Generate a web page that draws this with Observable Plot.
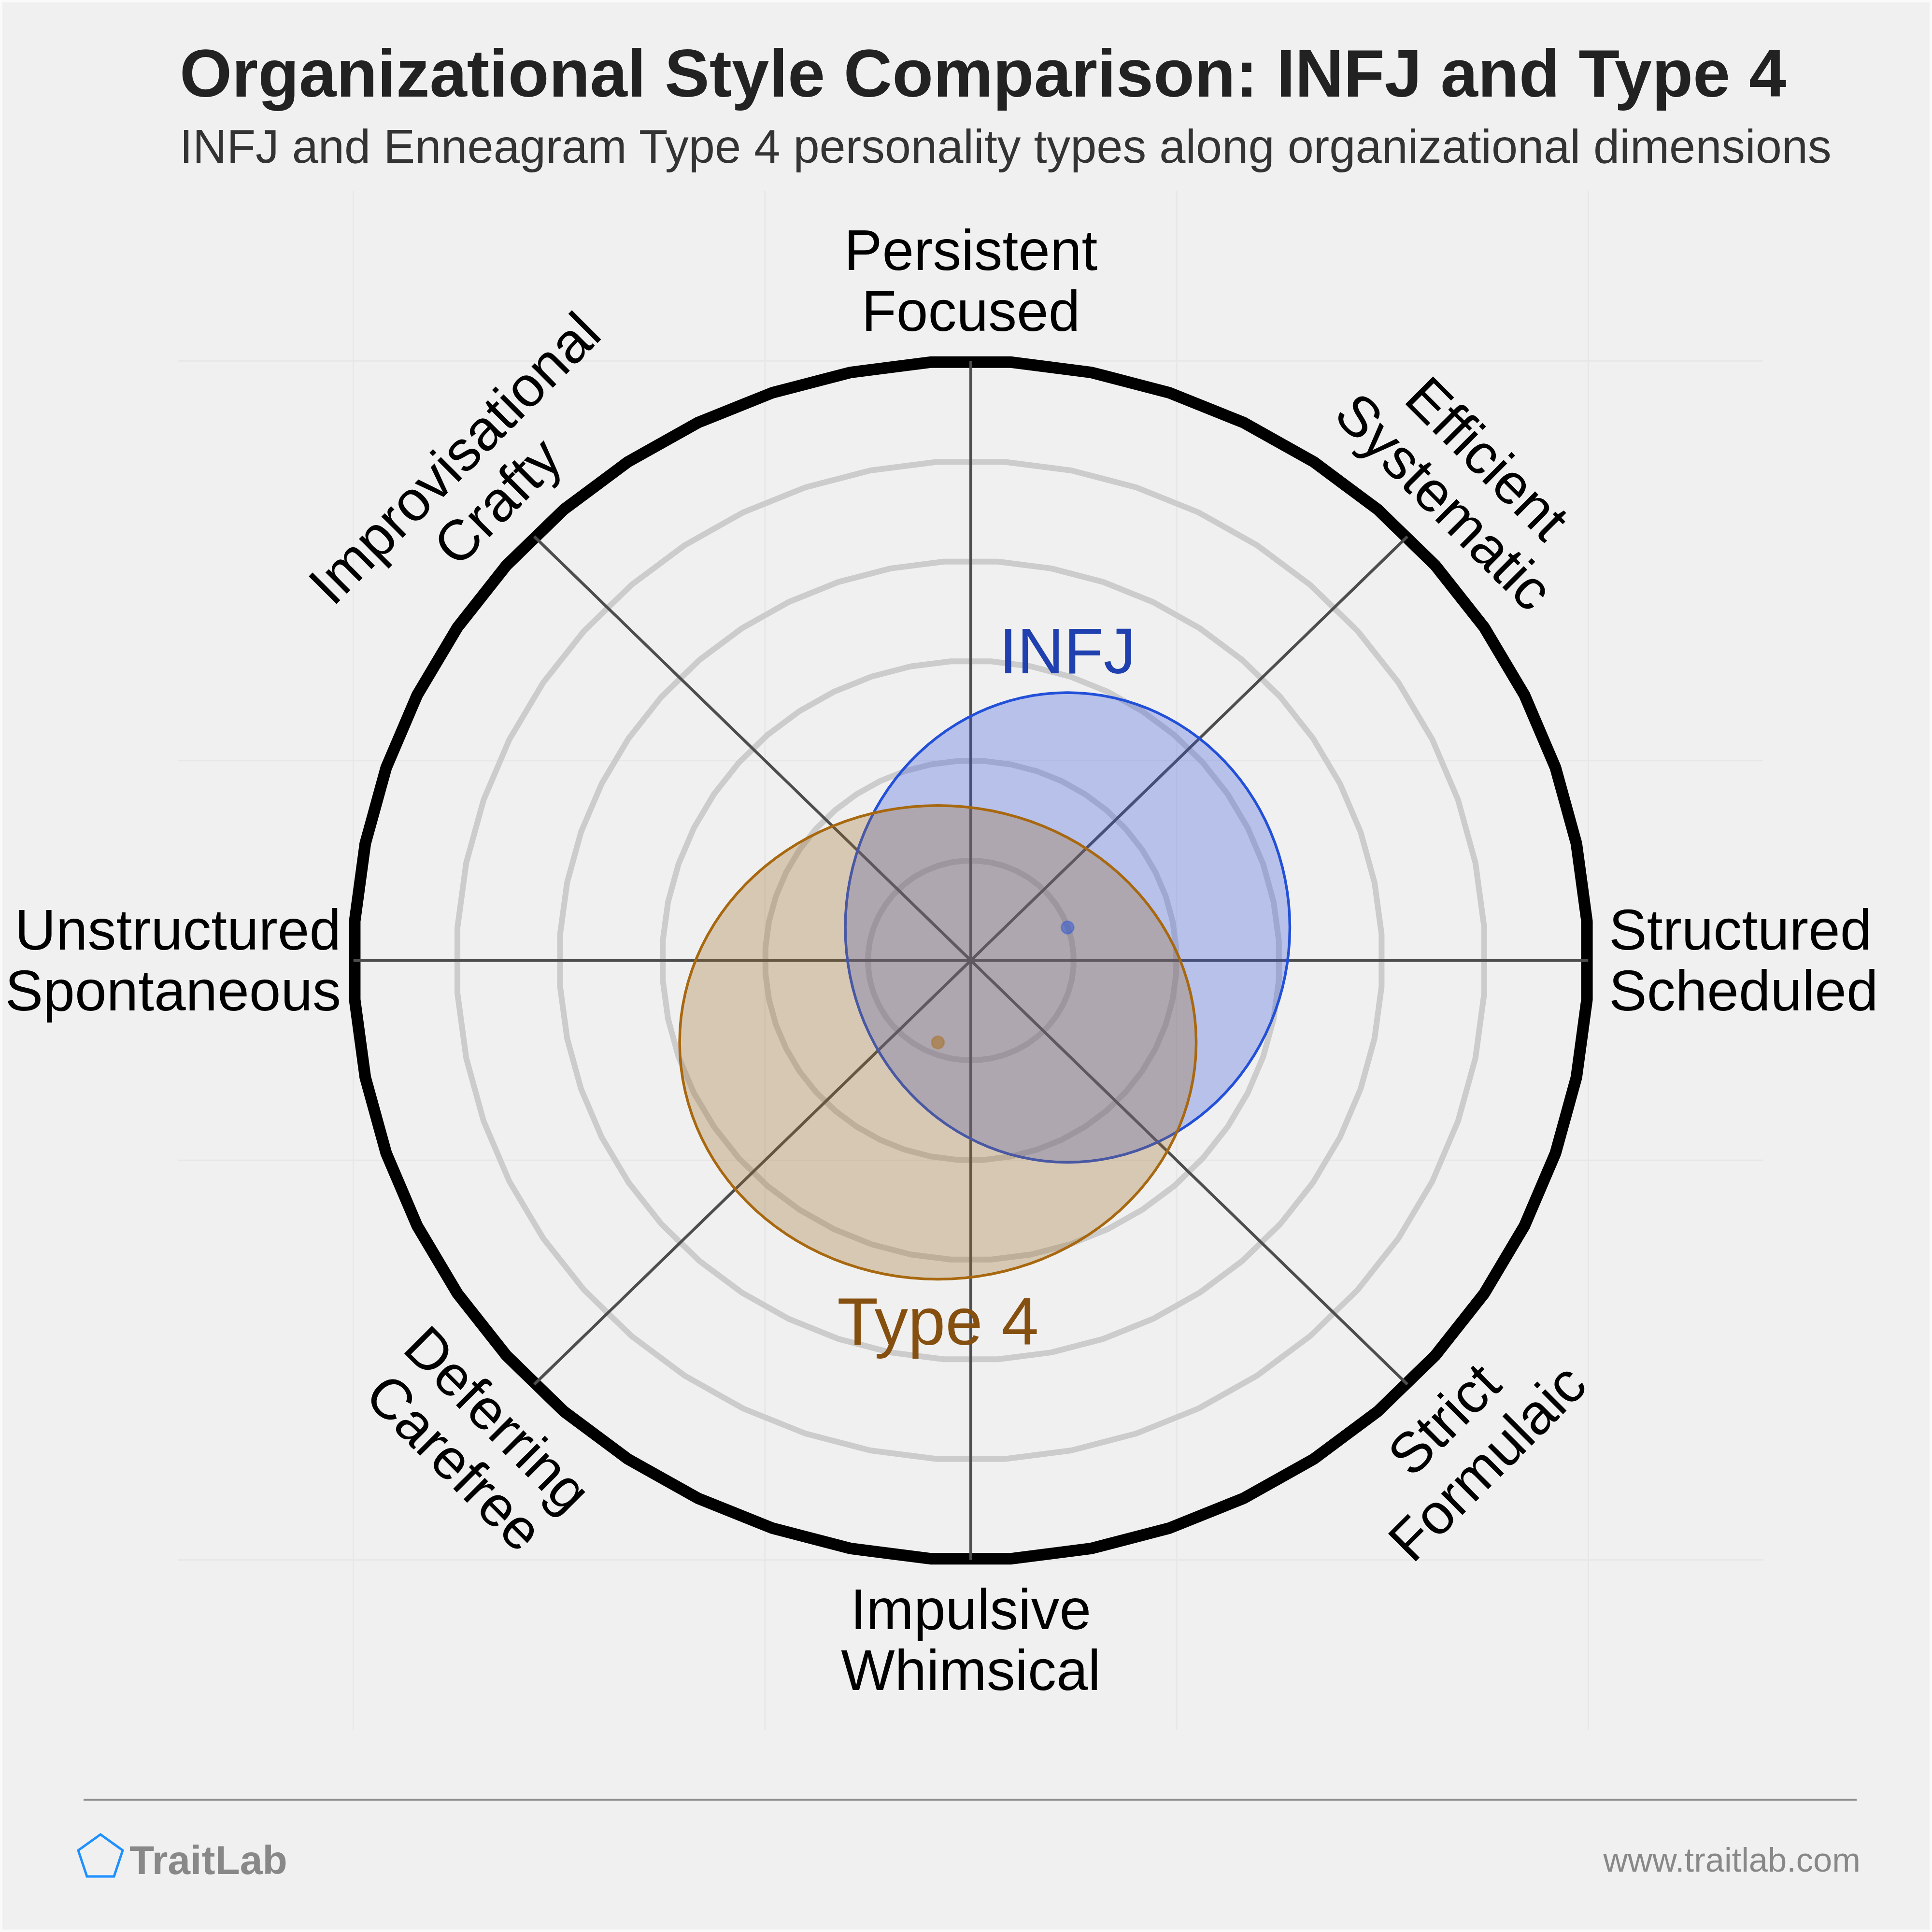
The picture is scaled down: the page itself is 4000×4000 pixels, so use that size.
<!DOCTYPE html>
<html>
<head>
<meta charset="utf-8">
<script src="https://cdn.jsdelivr.net/npm/d3@7"></script>
<script src="https://cdn.jsdelivr.net/npm/@observablehq/plot@0.6"></script>
<style>
  html, body { margin: 0; padding: 0; background: #f0f0f0; }
  #page { position: relative; width: 4000px; height: 4000px; background: #f0f0f0;
          box-shadow: inset 0 0 0 5px #fafafa; overflow: hidden;
          font-family: "Liberation Sans", Arial, Helvetica, sans-serif; }
  #header { position: absolute; left: 0; top: 0; }
  #chart { position: absolute; left: 0; top: 395px; }
  #footer { position: absolute; left: 0; top: 3581px; }
</style>
</head>
<body>
<div id="page">
  <svg id="header" width="4000" height="395" xmlns="http://www.w3.org/2000/svg">
    <text x="372" y="200" font-family="Liberation Sans, Arial, sans-serif" font-weight="bold" font-size="139" fill="#222222">Organizational Style Comparison: INFJ and Type 4</text>
    <text x="372" y="337" font-family="Liberation Sans, Arial, sans-serif" font-size="97.4" fill="#333333">INFJ and Enneagram Type 4 personality types along organizational dimensions</text>
  </svg>
  <div id="chart"></div>
  <svg id="footer" width="4000" height="419" xmlns="http://www.w3.org/2000/svg">
    <line x1="173" x2="3844" y1="145" y2="145" stroke="#8c8c8c" stroke-width="4"/>
    <polygon points="208,217 254,250 236,304 180,304 162,250" fill="none" stroke="#1e90ff" stroke-width="5" stroke-linejoin="miter"/>
    <text x="268" y="299" font-family="Liberation Sans, Arial, sans-serif" font-weight="bold" font-size="84" fill="#888888">TraitLab</text>
    <text x="3852" y="294" text-anchor="end" font-family="Liberation Sans, Arial, sans-serif" font-size="70.5" fill="#888888">www.traitlab.com</text>
  </svg>
</div>
<script>
// ---- data ----
const axisLabels = ["Structured\nScheduled", "Efficient\nSystematic", "Persistent\nFocused", "Improvisational\nCrafty",
                    "Unstructured\nSpontaneous", "Deferring\nCarefree", "Impulsive\nWhimsical", "Strict\nFormulaic"];
const axisAngles = [0, 45, 90, 135, 180, 225, 270, 315];
const ringLevels = [1, 2, 3, 4, 5];
const outerLevel = 6;
const gridTicks = [-6, -2, 2, 6];
const types = ["INFJ", "Type 4"];
const centerX = [0.94, -0.32];
const centerY = [0.33, -0.82];
const radiusX = [2.16, 2.51];
const radiusY = [2.35, 2.37];
const typeColors = ["#2350d8", "#a8680f"];
const fillColors = ["#3557d9", "#a06e2b"];
const labelColors = ["#1f40ae", "#854f10"];
const labelSizes = [134, 139];

// ---- derived geometry ----
const rad = d => d * Math.PI / 180;
const N = 48;
function ring(level) {
  return d3.range(N).map(i => {
    const a = 2 * Math.PI * i / N + Math.PI / N;
    return {level, x: level * Math.cos(a), y: level * Math.sin(a)};
  });
}
const ringPts = ringLevels.flatMap(ring);
const outerPts = ring(outerLevel);
const spokes = axisAngles.map(a => ({x1: 0, y1: 0, x2: outerLevel * Math.cos(rad(a)), y2: outerLevel * Math.sin(rad(a))}));

const M = 120;
const ellipses = types.map((t, k) => d3.range(M).map(i => {
  const a = 2 * Math.PI * i / M;
  return {type: t, x: centerX[k] + radiusX[k] * Math.cos(a), y: centerY[k] + radiusY[k] * Math.sin(a)};
}));
const centers = types.map((t, k) => ({type: t, k, x: centerX[k], y: centerY[k], rx: radiusX[k], ry: radiusY[k]}));

const labels = axisLabels.map((text, i) => {
  const a = axisAngles[i];
  let x, y, anchor = "middle", rotate = 0;
  if (a === 0) { x = 6.2; y = 0; anchor = "start"; }
  else if (a === 180) { x = -6.12; y = 0; anchor = "end"; }
  else {
    x = 6.8 * Math.cos(rad(a)); y = 6.8 * Math.sin(rad(a));
    if (a === 45 || a === 225) rotate = 45;
    if (a === 135 || a === 315) rotate = -45;
  }
  return {text, x, y, anchor, rotate};
});

const marks = [
  Plot.ruleX(gridTicks, {x: d => d, stroke: "#e7e7e7", strokeWidth: 3}),
  Plot.ruleY(gridTicks, {y: d => d, stroke: "#e7e7e7", strokeWidth: 3}),
  Plot.line(ringPts, {x: "x", y: "y", z: "level", curve: "linear-closed", stroke: "#cccccc", strokeWidth: 12}),
  Plot.line(outerPts, {x: "x", y: "y", curve: "linear-closed", stroke: "#000000", strokeWidth: 24}),
  Plot.link(spokes, {x1: "x1", y1: "y1", x2: "x2", y2: "y2", stroke: "#4d4d4d", strokeWidth: 6})
];
types.forEach((t, k) => {
  marks.push(Plot.line(ellipses[k], {x: "x", y: "y", curve: "linear-closed", fill: fillColors[k], fillOpacity: 0.3,
    stroke: typeColors[k], strokeWidth: 5.5}));
});
types.forEach((t, k) => {
  marks.push(Plot.dot([centers[k]], {x: "x", y: "y", r: 13, fill: typeColors[k], fillOpacity: 0.5, stroke: typeColors[k], strokeOpacity: 0.35, strokeWidth: 3}));
});
marks.push(Plot.text([centers[0]], {x: "x", y: d => d.y + d.ry, text: "type", lineAnchor: "bottom", dy: -40,
  fill: labelColors[0], fontSize: labelSizes[0]}));
marks.push(Plot.text([centers[1]], {x: "x", y: d => d.y - d.ry, text: "type", lineAnchor: "top", dy: 37,
  fill: labelColors[1], fontSize: labelSizes[1]}));
labels.forEach(l => {
  marks.push(Plot.text([l], {x: "x", y: "y", text: "text", textAnchor: l.anchor, rotate: l.rotate,
    fontSize: 118, lineHeight: 1.07, fill: "#000000"}));
});

const chart = Plot.plot({
  width: 4000,
  height: 3186,
  marginLeft: 369,
  marginRight: 350,
  marginTop: 0,
  marginBottom: 0,
  x: {domain: [-7.7, 7.7], axis: null},
  y: {domain: [-7.7, 7.7], axis: null},
  style: {background: "transparent", fontFamily: "Liberation Sans, Arial, sans-serif", overflow: "visible"},
  marks
});
document.getElementById("chart").appendChild(chart);
</script>
</body>
</html>
